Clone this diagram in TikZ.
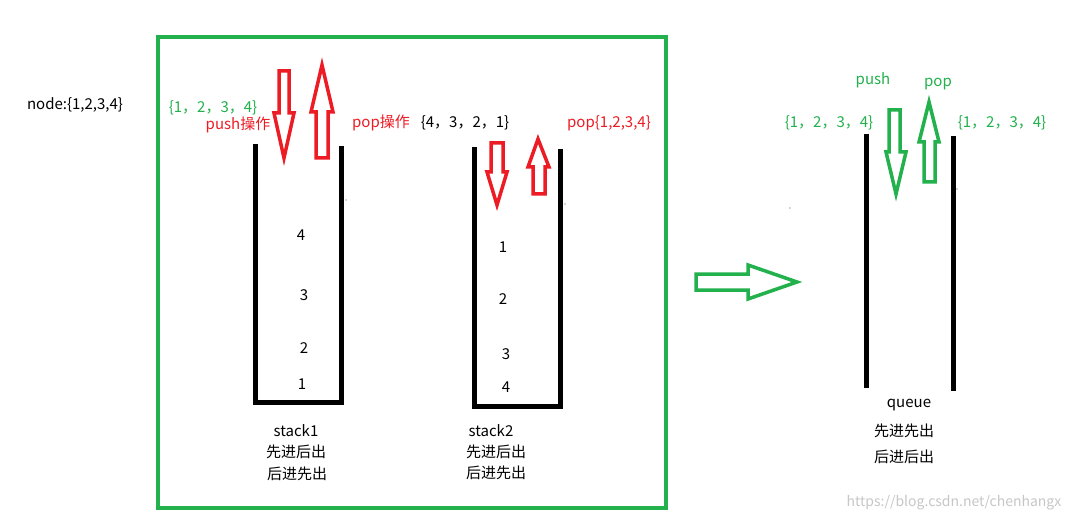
\documentclass[tikz,border=0pt]{standalone}
\usepackage{fontspec}
\setmainfont{Noto Sans CJK SC}
\definecolor{pred}{RGB}{237,28,36}
\definecolor{pgreen}{RGB}{34,177,76}
\begin{document}
\begin{tikzpicture}[x=1pt,y=-1pt,
  txt/.style={inner sep=0pt,font=\fontsize{15}{17}\selectfont},
  wall/.style={line width=5pt,line cap=rect},
  redarrow/.style={draw=pred,line width=3.5pt,line join=miter},
  greenarrow/.style={draw=pgreen,line width=3.5pt,line join=miter}]
\useasboundingbox[fill=white] (0,0) rectangle (1075,521);
% green frame
\draw[pgreen,line width=4pt] (158,37) rectangle (666,508);
% stack1
\draw[wall] (255,147) -- (255,402) -- (341,402) -- (341,149);
% stack2
\draw[wall] (474,150) -- (474,406) -- (560,406) -- (560,152);
% queue walls
\draw[wall] (866,137) -- (866,385);
\draw[wall] (953,139) -- (953,388);
% red arrows stack1
\draw[redarrow] (279,71) -- (289,71) -- (289,113) -- (294,113) -- (284,158) -- (274,113) -- (279,113) -- cycle;
\draw[redarrow] (322,65) -- (333,112) -- (328,112) -- (328,158) -- (316,158) -- (316,112) -- (311,112) -- cycle;
% red arrows stack2
\draw[redarrow] (491,143) -- (503,143) -- (503,172) -- (507,172) -- (497,205) -- (487,172) -- (491,172) -- cycle;
\draw[redarrow] (538,139) -- (549,167) -- (545,167) -- (545,194) -- (533,194) -- (533,167) -- (528,167) -- cycle;
% green arrows queue
\draw[greenarrow] (889,110) -- (900,110) -- (900,152) -- (906,152) -- (896,194) -- (886,152) -- (889,152) -- cycle;
\draw[greenarrow] (929,102) -- (939,142) -- (935,142) -- (935,182) -- (924,182) -- (924,142) -- (919,142) -- cycle;
% big green arrow
\draw[greenarrow] (696,274) -- (748,274) -- (748,265) -- (797,282) -- (748,299) -- (748,290) -- (696,290) -- cycle;
% tiny specks
\fill[black!70] (346,200) circle (0.6);
\fill[black!70] (565,204) circle (0.6);
\fill[black!70] (790,208) circle (0.6);
\fill[black!70] (957,189) circle (0.6);
% texts
\node[txt] (nodeset) at (75,105) {node:\{1,2,3,4\}};
\node[txt,text=pgreen] (in1) at (213,108) {\{1，2，3，4\}};
\node[txt,text=pred] (push1) at (238,125) {push操作};
\node[txt,text=pred] (pop1) at (381,123) {pop操作};
\node[txt] (mid) at (465,123) {\{4，3，2，1\}};
\node[txt,text=pred] (pop2) at (609,123) {pop\{1,2,3,4\}};
% stack1 content
\node[txt] (s1a) at (301,235) {4};
\node[txt] (s1b) at (304,295) {3};
\node[txt] (s1c) at (304,348) {2};
\node[txt] (s1d) at (302,384) {1};
% stack2 content
\node[txt] (s2a) at (503,247) {1};
\node[txt] (s2b) at (503,299) {2};
\node[txt] (s2c) at (506,354) {3};
\node[txt] (s2d) at (506,387) {4};
% labels
\node[txt] (st1) at (296,431) {stack1};
\node[txt] (st1a) at (296,452) {先进后出};
\node[txt] (st1b) at (297,474) {后进先出};
\node[txt] (st2) at (491,431) {stack2};
\node[txt] (st2a) at (496,452) {先进后出};
\node[txt] (st2b) at (496,473) {后进先出};
% queue texts
\node[txt,text=pgreen] (qpush) at (873,80) {push};
\node[txt,text=pgreen] (qpop) at (938,84) {pop};
\node[txt,text=pgreen] (qin) at (829,123) {\{1，2，3，4\}};
\node[txt,text=pgreen] (qout) at (1002,123) {\{1，2，3，4\}};
\node[txt] (q) at (909,405) {queue};
\node[txt] (qa) at (904,431) {先进先出};
\node[txt] (qb) at (904,457) {后进后出};
% watermark
\node[txt,text=black!22,font=\fontsize{14}{16}\selectfont] (wm) at (954,503) {https://blog.csdn.net/chenhangx};
\end{tikzpicture}
\end{document}
